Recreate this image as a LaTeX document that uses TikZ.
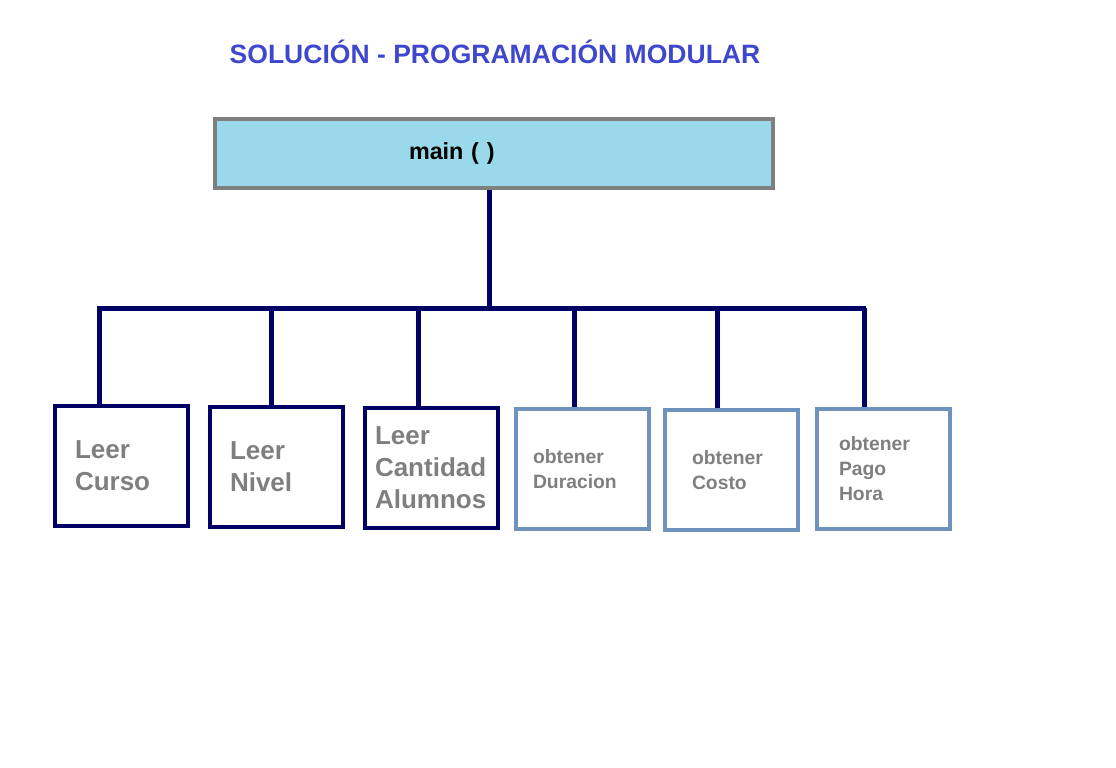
\documentclass[tikz,border=0pt]{standalone}
\usepackage{fontspec}
\setmainfont{Liberation Sans}
\definecolor{titleblue}{HTML}{3F48CC}
\definecolor{mainfill}{HTML}{99D9EA}
\definecolor{mainedge}{HTML}{7F7F7F}
\definecolor{navyline}{RGB}{0,0,100}
\definecolor{steeledge}{HTML}{7092BE}
\definecolor{labelgray}{HTML}{7F7F7F}
\begin{document}
\begin{tikzpicture}[
	x=0.75pt, y=-0.75pt,
	title/.style     = {font=\fontsize{19.9pt}{23pt}\selectfont\bfseries, text=titleblue},
	mainbox/.style   = {rectangle, draw=mainedge, fill=mainfill, line width=3pt,
		minimum width=418.5pt, minimum height=51.75pt, align=left,
		font=\fontsize{17.5pt}{20pt}\selectfont\bfseries},
	readbox/.style   = {rectangle, draw=navyline, line width=3pt, minimum width=99.75pt,
		minimum height=90pt, align=left, text=labelgray,
		font=\fontsize{19.5pt}{24pt}\selectfont\bfseries},
	getbox/.style    = {rectangle, draw=steeledge, line width=3pt, minimum width=99.75pt,
		minimum height=90pt, align=left, text=labelgray,
		font=\fontsize{14.5pt}{18.75pt}\selectfont\bfseries},
	link/.style      = {draw=navyline, line width=3.75pt}
	]
	\useasboundingbox (0,0) rectangle (1116,767);
	
	% ===================== Title and main =====================
	\node[title] (heading) at (495, 52) {SOLUCIÓN - PROGRAMACIÓN MODULAR};
	\node[mainbox, inner xsep=145.5pt, text width=127.5pt] (main) at (494, 153.5) {main (\,\,)};
	
	% ===================== Modules =====================
	\node[readbox, inner xsep=15pt, text width=69.75pt]   (curso) at (121.5, 465.5) {Leer\\Curso};
	\node[readbox, inner xsep=15pt, text width=69.75pt]   (nivel) at (276.5, 467)   {Leer\\Nivel};
	\node[readbox, inner xsep=7.5pt, text width=84.75pt]  (cant)  at (431.5, 468)   {Leer\\Cantidad\\Alumnos};
	\node[getbox, inner xsep=12.75pt, text width=74.25pt] (dur)   at (582.5, 469)   {obtener\\Duracion};
	\node[getbox, inner xsep=20.25pt, text width=59.25pt] (costo) at (731.5, 470)   {obtener\\Costo};
	\node[getbox, inner xsep=16.5pt, text width=66.75pt]  (pago)  at (883.5, 469)   {obtener\\Pago\\Hora};
	
	% ===================== Connectors =====================
	\coordinate (hub)  at (489, 308);
	\coordinate (busL) at (97, 308);
	\coordinate (busR) at (866, 308);
	
	\draw[link] (hub |- main.south) -- (hub);
	\draw[link] (busL) -- (busR);
	\foreach \x/\n in {99/curso, 271/nivel, 418/cant, 574/dur, 717/costo, 864/pago}
		\draw[link] (\x,308) -- (\x,308 |- \n.north);
	
\end{tikzpicture}
\end{document}
